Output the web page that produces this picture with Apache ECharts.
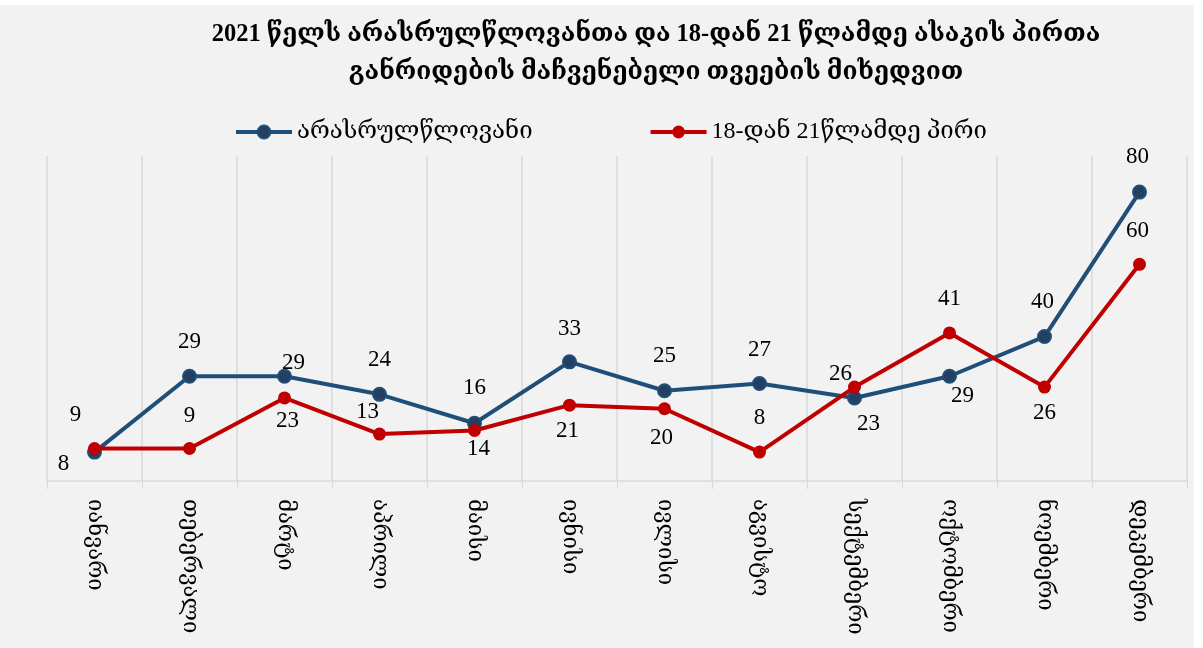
<!DOCTYPE html>
<html>
<head>
<meta charset="utf-8">
<script src="https://cdn.jsdelivr.net/npm/echarts@6/dist/echarts.min.js"></script>
<style>
  html, body { margin: 0; padding: 0; background: #ffffff; }
  #chart { position: absolute; left: 0; top: 5px; width: 1194px; height: 643px; background: #f2f2f2; }
</style>
</head>
<body>
<div id="chart"></div>
<script>
// months
const months = ['იანვარი', 'თებერვალი', 'მარტი', 'აპრილი', 'მაისი', 'ივნისი',
  'ივლისი', 'აგვისტო', 'სექტემბერი', 'ოქტომბერი', 'ნოემბერი', 'დეკემბერი']
const minorsName = 'არასრულწლოვანი'
const youngName = '18-დან 21წლამდე პირი'
const minors = [8, 29, 29, 24, 16, 33, 25, 27, 23, 29, 40, 80]
const young = [9, 9, 23, 13, 14, 21, 20, 8, 26, 41, 26, 60]

// where each value label sits relative to its point
const minorsLabelOffset = [[-31, 12], [0, -34], [9, -13], [0, -34], [0, -35], [0, -33],
  [0, -35], [0, -34], [14, 26], [13, 20], [-2, -35], [-2, -35]]
const youngLabelOffset = [[-19, -34], [0, -33], [3, 23], [-12, -22], [4, 19], [-2, 26],
  [-3, 29], [0, -34], [-14, -13], [0, -34], [0, 26], [-2, -33]]

const serif = "'Liberation Serif', 'DejaVu Serif', serif"

function withLabels (values, offsets) {
  return values.map((v, i) => ({
    value: v,
    label: { position: 'inside', offset: offsets[i] }
  }))
}

const myChart = echarts.init(document.getElementById('chart'))
myChart.setOption({
  animation: false,
  title: {
    text: '2021 წელს არასრულწლოვანთა და 18-დან 21 წლამდე ასაკის პირთა\nგანრიდების მაჩვენებელი თვეების მიხედვით',
    left: 651,
    textAlign: 'center',
    top: 6,
    textStyle: {
      fontFamily: serif,
      fontSize: 24.5,
      fontWeight: 'bold',
      color: '#000',
      lineHeight: 38
    }
  },
  legend: {
    top: 110,
    left: 229,
    itemWidth: 56,
    itemHeight: 16,
    itemGap: 116,
    lineStyle: { width: 4 },
    textStyle: { fontFamily: serif, fontSize: 24, color: '#000' },
    data: [minorsName, youngName]
  },
  grid: {
    left: 47,
    right: 7,
    top: 151,
    bottom: 167
  },
  xAxis: {
    type: 'category',
    boundaryGap: true,
    data: months,
    axisLine: { lineStyle: { color: '#d9d9d9', width: 1.5 } },
    axisTick: { show: true, length: 8, interval: 0, lineStyle: { color: '#d9d9d9' } },
    splitLine: { show: true, interval: 0, lineStyle: { color: '#d9d9d9', width: 1.5 } },
    axisLabel: {
      rotate: -90,
      interval: 0,
      margin: 18,
      fontFamily: serif,
      fontSize: 22,
      color: '#000'
    }
  },
  yAxis: {
    type: 'value',
    min: 0,
    max: 90,
    show: false,
    splitLine: { show: false }
  },
  series: [
    {
      name: minorsName,
      type: 'line',
      data: withLabels(minors, minorsLabelOffset),
      symbol: 'circle',
      symbolSize: 13,
      lineStyle: { color: '#1f4e79', width: 4 },
      itemStyle: { color: '#243f60', borderColor: '#1f4e79', borderWidth: 2 },
      label: { show: true, fontFamily: serif, fontSize: 23, color: '#000' },
      z: 2
    },
    {
      name: youngName,
      type: 'line',
      data: withLabels(young, youngLabelOffset),
      symbol: 'circle',
      symbolSize: 13,
      lineStyle: { color: '#c00000', width: 4 },
      itemStyle: { color: '#c00000' },
      label: { show: true, fontFamily: serif, fontSize: 23, color: '#000' },
      z: 3
    }
  ]
})
</script>
</body>
</html>
